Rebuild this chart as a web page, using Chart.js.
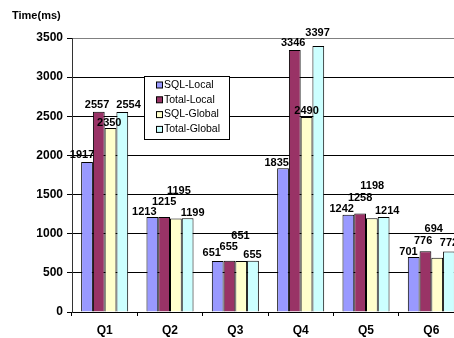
<!DOCTYPE html>
<html>
<head>
<meta charset="utf-8">
<script src="https://cdn.jsdelivr.net/npm/chart.js@4/dist/chart.umd.min.js"></script>
<style>
  html, body { margin: 0; padding: 0; background: #fff; overflow: hidden; }
  #wrap { width: 454px; height: 338px; overflow: hidden; position: relative; }
  canvas { display: block; }
</style>
</head>
<body>
<div id="wrap"><canvas id="c" width="470" height="338"></canvas></div>
<script>
// Query timings in milliseconds
const categories = ['Q1', 'Q2', 'Q3', 'Q4', 'Q5', 'Q6'];
const seriesNames = ['SQL-Local', 'Total-Local', 'SQL-Global', 'Total-Global'];
const sqlLocal    = [1917, 1213, 651, 1835, 1242, 701];
const totalLocal  = [2557, 1215, 655, 3346, 1258, 776];
const sqlGlobal   = [2350, 1195, 651, 2490, 1198, 694];
const totalGlobal = [2554, 1199, 655, 3397, 1214, 772];
const yTicks = [0, 500, 1000, 1500, 2000, 2500, 3000, 3500];

const FONT = "'Liberation Sans', Arial, sans-serif";
const colors = ['#9999FF', '#993366', '#FFFFCC', '#CCFFFF'];
const seriesValues = [sqlLocal, totalLocal, sqlGlobal, totalGlobal];

// Small nudges [dx, dy] for value labels so neighbouring labels don't collide
const labelNudge = [
  [[-5, -6.5], [-8, -5.3], [-6, -7.7], [-6.3, -5], [-6.7, -5.5], [-5.2, -4.7]],
  [[-1.7, -7], [0, -15], [-0.7, -14], [-1.6, -7.3], [0, -15.8], [-2.3, -10.2]],
  [[-1.3, -5], [3, -27.7], [-0.7, -25.3], [0, -6], [0.4, -32.5], [-3.5, -28.7]],
  [[6.3, -7], [5, -5.5], [-0.5, -5.7], [-0.7, -13.3], [3.6, -6.3], [0, -8.2]]
];

const valueLabels = {
  id: 'valueLabels',
  afterDatasetsDraw(chart) {
    const ctx = chart.ctx;
    ctx.save();
    ctx.font = 'bold 11px ' + FONT;
    ctx.fillStyle = '#000';
    ctx.textAlign = 'center';
    ctx.textBaseline = 'middle';
    chart.data.datasets.forEach((ds, di) => {
      const meta = chart.getDatasetMeta(di);
      meta.data.forEach((bar, i) => {
        const n = labelNudge[di][i];
        ctx.fillText(String(ds.data[i]), bar.x + n[0], bar.y + n[1]);
      });
    });
    ctx.restore();
  }
};

// Axis caption and boxed legend drawn over the plot
const overlay = {
  id: 'overlay',
  afterDraw(chart) {
    const ctx = chart.ctx;
    ctx.save();
    ctx.font = 'bold 11px ' + FONT;
    ctx.fillStyle = '#000';
    ctx.textAlign = 'left';
    ctx.textBaseline = 'middle';
    ctx.fillText('Time(ms)', 12, 15.5);

    const bx = 144.5, by = 76.5, bw = 85, bh = 63;
    ctx.fillStyle = '#fff';
    ctx.fillRect(bx, by, bw, bh);
    ctx.strokeStyle = '#000';
    ctx.lineWidth = 1;
    ctx.strokeRect(bx, by, bw, bh);
    ctx.font = '10.5px ' + FONT;
    chart.data.datasets.forEach((ds, i) => {
      const cy = 85 + i * 14.8;
      ctx.fillStyle = ds.backgroundColor;
      ctx.fillRect(156.5, cy - 3, 6, 6);
      ctx.strokeStyle = '#000';
      ctx.strokeRect(156.5, cy - 3, 6, 6);
      ctx.fillStyle = '#000';
      ctx.fillText(ds.label, 164, cy);
    });
    ctx.restore();
  }
};

new Chart(document.getElementById('c'), {
  type: 'bar',
  data: {
    labels: categories,
    datasets: seriesNames.map((name, i) => ({
      label: name,
      data: seriesValues[i],
      backgroundColor: colors[i],
      borderColor: '#000',
      borderWidth: 1,
      categoryPercentage: 0.72,
      barPercentage: 1.0
    }))
  },
  options: {
    responsive: false,
    animation: false,
    devicePixelRatio: 1,
    layout: { padding: { top: 38, right: 6, bottom: 0, left: 0 } },
    plugins: {
      legend: { display: false },
      tooltip: { enabled: false },
      title: { display: false }
    },
    scales: {
      x: {
        grid: {
          display: true,
          drawOnChartArea: false,
          drawTicks: true,
          tickLength: 4,
          offset: true,
          color: '#000'
        },
        border: { display: true, color: '#000' },
        ticks: {
          font: { family: FONT, size: 12, weight: 'bold' },
          color: '#000',
          padding: 7
        },
        afterFit(scale) { scale.height = 26; }
      },
      y: {
        min: 0,
        max: 3500,
        afterBuildTicks(scale) { scale.ticks = yTicks.map(v => ({ value: v })); },
        grid: {
          color: (c) => (c.tick && c.tick.value === 3500 ? '#808080' : '#000'),
          tickColor: '#000',
          tickLength: 5
        },
        border: { display: true, color: '#333' },
        ticks: {
          font: { family: FONT, size: 12, weight: 'bold' },
          color: '#000',
          padding: 4,
          callback: (v) => String(v)
        },
        afterFit(scale) { scale.width = 72; }
      }
    }
  },
  plugins: [valueLabels, overlay]
});
</script>
</body>
</html>
